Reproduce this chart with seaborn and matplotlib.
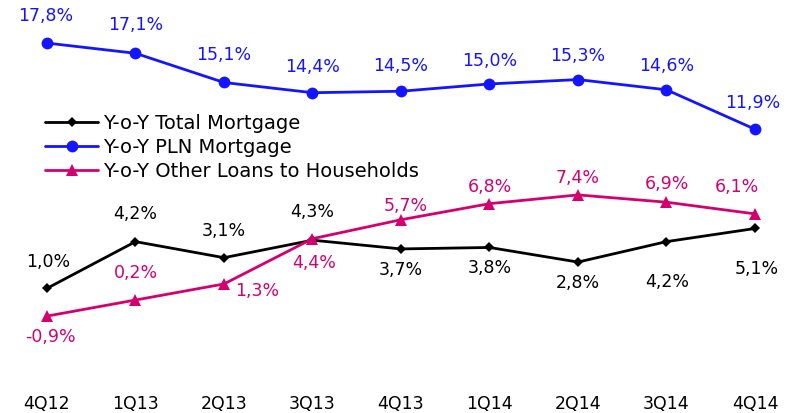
import pandas as pd
import seaborn as sns
import matplotlib.pyplot as plt

quarters = ["4Q12", "1Q13", "2Q13", "3Q13", "4Q13", "1Q14", "2Q14", "3Q14", "4Q14"]
total_mortgage = [1.0, 4.2, 3.1, 4.3, 3.7, 3.8, 2.8, 4.2, 5.1]
pln_mortgage = [17.8, 17.1, 15.1, 14.4, 14.5, 15.0, 15.3, 14.6, 11.9]
other_loans = [-0.9, 0.2, 1.3, 4.4, 5.7, 6.8, 7.4, 6.9, 6.1]

names = ["Y-o-Y Total Mortgage", "Y-o-Y PLN Mortgage", "Y-o-Y Other Loans to Households"]
colors = ["#000000", "#1414ff", "#d4006f"]
marker_sizes = [5.5, 8.5, 8.5]

# label offsets in pixels (dx, dy), dy up
total_off = [(1, 26), (0, 28), (0, 27), (0, 28), (0, -21), (0, -21), (0, -21), (1, -40), (2, -41)]
pln_off = [(-1, 27), (0, 28), (0, 27), (0, 26), (0, 25), (0, 23), (0, 24), (0, 24), (-2, 26)]
other_off = [(3, -21), (0, 27), (33, -7), (2, -24), (5, 14), (0, 17), (0, 17), (0, 18), (-18, 27)]

df = pd.DataFrame({
    "q": list(range(len(quarters))) * 3,
    "v": total_mortgage + pln_mortgage + other_loans,
    "s": [names[0]] * 9 + [names[1]] * 9 + [names[2]] * 9,
})

sns.set_style("white")
plt.rcParams["font.family"] = ["DejaVu Sans"]

fig = plt.figure(figsize=(7.97, 4.13), dpi=100)
ax = fig.add_axes([0, 28 / 413, 1, 385 / 413])

sns.lineplot(data=df, x="q", y="v", hue="s", style="s", hue_order=names, style_order=names,
             palette=colors, markers={names[0]: "D", names[1]: "o", names[2]: "^"},
             dashes=False, linewidth=2, markersize=8, markeredgewidth=0, ax=ax)
for line, ms in zip(ax.lines[:3], marker_sizes):
    line.set_markersize(ms)

for vals, offs, c in [(total_mortgage, total_off, colors[0]),
                      (pln_mortgage, pln_off, colors[1]),
                      (other_loans, other_off, colors[2])]:
    for i, v in enumerate(vals):
        ax.annotate(f"{v:.1f}%".replace(".", ","), (i, v), xytext=offs[i],
                    textcoords="offset pixels", ha="center", va="center",
                    color=c, fontsize=12.5)

ax.set_xlim(-0.531, 8.475)
ax.set_ylim(-5.62, 20.75)
ax.set_xticks(range(len(quarters)))
ax.set_xticklabels(quarters, fontsize=12.5, color="black")
ax.tick_params(axis="x", length=0, pad=7)
ax.set_yticks([])
ax.set_xlabel("")
ax.set_ylabel("")
for sp in ax.spines.values():
    sp.set_visible(False)

leg = ax.legend(loc="upper left", bbox_to_anchor=(45 / 797, 1 - 114 / 413),
                bbox_transform=fig.transFigure, frameon=False, fontsize=14,
                handlelength=2.75, handletextpad=0.25, borderpad=0, borderaxespad=0,
                labelspacing=0.25)
for h, ms in zip(leg.get_lines(), marker_sizes):
    h.set_linewidth(2)
    h.set_markersize(ms)
for t in leg.get_texts():
    t.set_color("black")

fig.savefig("out.png", dpi=100)
